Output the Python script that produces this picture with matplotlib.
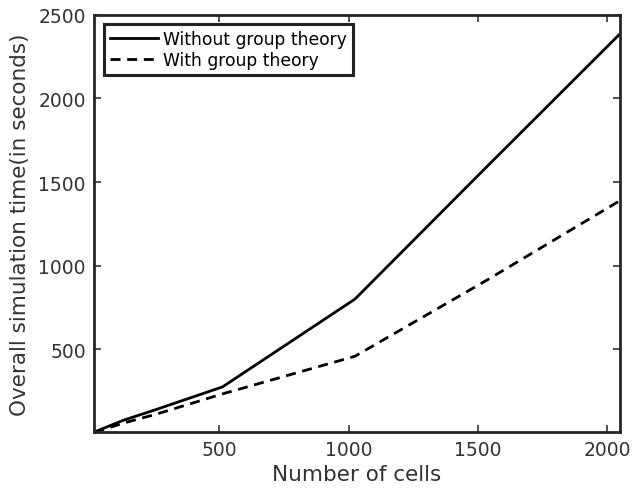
import matplotlib
matplotlib.use("Agg")
import matplotlib.pyplot as plt

cells = [16, 128, 256, 512, 1024, 1536, 2048]
without_gt = [5, 75, 140, 275, 800, 1595, 2385]
with_gt = [3, 58, 112, 233, 458, 915, 1388]
xticks = [500, 1000, 1500, 2000]
yticks = [500, 1000, 1500, 2000, 2500]

fig = plt.figure(figsize=(6.33, 4.89), dpi=100)
ax = fig.add_axes([0.149, 0.1145, 0.830, 0.853])
ax.plot(cells, without_gt, color='black', lw=2, ls='-', label='Without group theory')
ax.plot(cells, with_gt, color='black', lw=2, ls=(0, (3.6, 2.4)), label='With group theory')
ax.set_xlim(16, 2048)
ax.set_ylim(5, 2500)
ax.set_xticks(xticks)
ax.set_yticks(yticks)
ax.tick_params(direction='in', top=True, right=True, labelsize=13.5, colors='#333333',
               width=1.2, length=5, pad=6)
for s in ax.spines.values():
    s.set_linewidth(2)
    s.set_color('#262626')
ax.set_xlabel('Number of cells', fontsize=15.5, color='#333333', labelpad=3)
ax.set_ylabel('Overall simulation time(in seconds)', fontsize=15.5, color='#333333', labelpad=6)
leg = ax.legend(loc='upper left', fontsize=12.3, frameon=True, fancybox=False, framealpha=1,
                borderpad=0.35, handlelength=2.8, handletextpad=0.3, labelspacing=0.15,
                borderaxespad=0.55)
leg.get_frame().set_edgecolor('#222222')
leg.get_frame().set_linewidth(2.2)
fig.savefig('out.png', dpi=100)
